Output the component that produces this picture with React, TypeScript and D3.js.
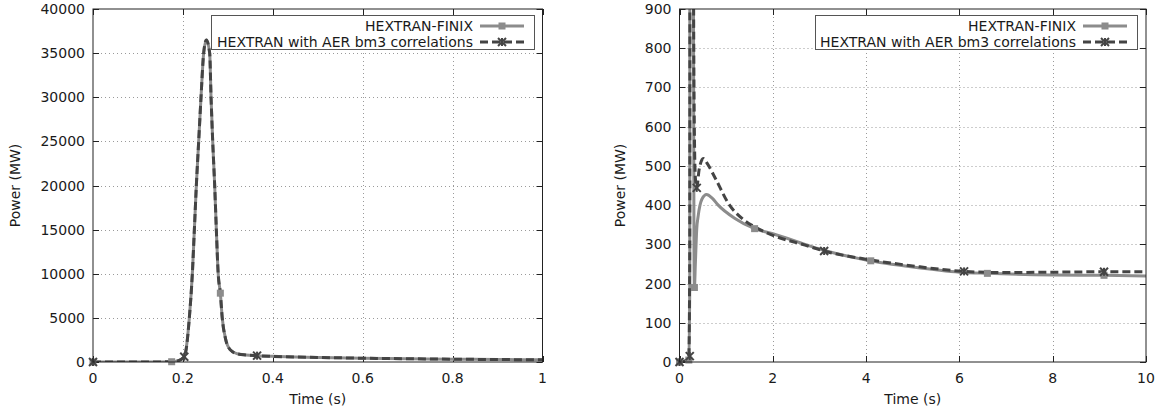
import React from "react";
import * as d3 from "d3";

// ---- Left panel: full transient, 0–1 s ----
const finixLeftT = [0, 0.05, 0.1, 0.15, 0.175, 0.19, 0.2, 0.2054, 0.2143, 0.221, 0.2255, 0.2299, 0.2351, 0.2403, 0.2462, 0.2522, 0.2596, 0.2626, 0.2663, 0.2707, 0.2744, 0.2785, 0.2833, 0.2875, 0.295, 0.305, 0.32, 0.34, 0.365, 0.4, 0.5, 0.6, 0.7, 0.8, 0.9, 1.0];
const finixLeftP = [0, 0, 0, 10, 30, 150, 450, 1000, 5000, 10000, 15000, 20000, 25000, 30000, 35000, 36500, 35000, 30000, 25000, 20000, 15000, 10000, 7800, 5000, 2600, 1400, 950, 800, 720, 640, 520, 430, 370, 320, 280, 250];
const aerLeftT = [0, 0.05, 0.1, 0.15, 0.175, 0.19, 0.203, 0.2075, 0.2143, 0.221, 0.2255, 0.2299, 0.2351, 0.2403, 0.2462, 0.2522, 0.2596, 0.2626, 0.2663, 0.2707, 0.2744, 0.2785, 0.2833, 0.2875, 0.295, 0.305, 0.32, 0.34, 0.365, 0.4, 0.5, 0.6, 0.7, 0.8, 0.9, 1.0];
const aerLeftP = [0, 0, 0, 10, 30, 150, 600, 1500, 5000, 10000, 15000, 20000, 25000, 30000, 35000, 36500, 35000, 30000, 25000, 20000, 15000, 10000, 7800, 5000, 2600, 1400, 950, 800, 720, 640, 520, 430, 370, 320, 280, 250];
const finixLeftMarks: [number, number][] = [[0, 0], [0.175, 30], [0.2833, 7800]];
const aerLeftMarks: [number, number][] = [[0, 0], [0.203, 600], [0.365, 720]];

// ---- Right panel: long-term behaviour, 0–10 s ----
const finixRightT = [0, 0.1, 0.2, 0.22, 0.24, 0.25, 0.27, 0.29, 0.31, 0.32, 0.34, 0.37, 0.4, 0.48, 0.58, 0.7, 0.83, 1.19, 1.61, 2.0, 2.69, 3.0, 4.0, 5.0, 6.0, 6.6, 8.0, 9.1, 10.0];
const finixRightP = [0, 0, 5, 200, 20000, 36000, 12000, 1500, 300, 190, 250, 340, 372, 415, 427, 418, 400, 366, 340, 327, 300, 288, 260, 242, 229, 226, 222, 221, 219];
const aerRightT = [0, 0.1, 0.2, 0.22, 0.24, 0.25, 0.27, 0.29, 0.31, 0.34, 0.37, 0.42, 0.51, 0.6, 0.77, 1.05, 1.34, 1.62, 2.0, 2.69, 3.1, 4.0, 5.0, 6.1, 7.0, 8.0, 9.1, 10.0];
const aerRightP = [0, 2, 12, 300, 20000, 36500, 15000, 2000, 700, 470, 444, 490, 519, 505, 468, 404, 366, 344, 323, 298, 283, 262, 245, 231, 228, 229, 230, 230];
const finixRightMarks: [number, number][] = [[0, 0], [0.2, 5], [0.32, 190], [1.61, 340], [4.1, 258], [6.6, 226], [9.1, 221]];
const aerRightMarks: [number, number][] = [[0, 0], [0.22, 15], [0.37, 444], [3.1, 283], [6.1, 231], [9.1, 230]];

// ---- Axis ticks and labels ----
const leftXTicks = [0, 0.2, 0.4, 0.6, 0.8, 1];
const leftYTicks = [0, 5000, 10000, 15000, 20000, 25000, 30000, 35000, 40000];
const rightXTicks = [0, 2, 4, 6, 8, 10];
const rightYTicks = [0, 100, 200, 300, 400, 500, 600, 700, 800, 900];
const seriesNames = ["HEXTRAN-FINIX", "HEXTRAN with AER bm3 correlations"];
const xLabel = "Time (s)";
const yLabel = "Power (MW)";

const FONT = "'DejaVu Sans', Verdana, sans-serif";
const FINIX_COLOR = "#8c8c8c";
const AER_COLOR = "#444444";
const TEXT = "#1a1a1a";

type Series = { t: number[]; p: number[]; marks: [number, number][] };

function Square({ x, y }: { x: number; y: number }) {
  return <rect x={x - 3.5} y={y - 3.5} width={7} height={7} fill={FINIX_COLOR} />;
}

function Star({ x, y }: { x: number; y: number }) {
  const r = 4;
  return (
    <g stroke={AER_COLOR} strokeWidth={2}>
      <line x1={x - r} y1={y - r} x2={x + r} y2={y + r} />
      <line x1={x - r} y1={y + r} x2={x + r} y2={y - r} />
      <line x1={x} y1={y - r} x2={x} y2={y + r} />
    </g>
  );
}

function Panel(props: {
  id: string;
  left: number;
  right: number;
  top: number;
  bottom: number;
  xDomain: [number, number];
  yDomain: [number, number];
  xTicks: number[];
  yTicks: number[];
  finix: Series;
  aer: Series;
  legendLeft: number;
  legendRight: number;
  yLabelX: number;
}) {
  const { left, right, top, bottom, finix, aer } = props;
  const x = d3.scaleLinear().domain(props.xDomain).range([left, right]);
  const y = d3.scaleLinear().domain(props.yDomain).range([bottom, top]);
  const line = d3
    .line<[number, number]>()
    .x((d) => x(d[0]))
    .y((d) => y(d[1]))
    .curve(d3.curveMonotoneX);
  const finixPts = finix.t.map((t, i) => [t, finix.p[i]] as [number, number]);
  const aerPts = aer.t.map((t, i) => [t, aer.p[i]] as [number, number]);
  const clipId = `clip-${props.id}`;
  const tickLen = 6;
  const fmt = (v: number) => String(v);

  const lgTop = 15;
  const lgBottom = 49;
  const sampleEnd = props.legendRight - 10;
  const sampleStart = sampleEnd - 44;
  const textEnd = sampleStart - 7;
  const rows = [26, 42];

  return (
    <g>
      <defs>
        <clipPath id={clipId}>
          <rect x={left} y={top} width={right - left} height={bottom - top} />
        </clipPath>
      </defs>

      {/* grid */}
      <g stroke="#9a9a9a" strokeWidth={1} strokeDasharray="1,3">
        {props.xTicks.slice(1, -1).map((t) => (
          <line key={`gx${t}`} x1={Math.round(x(t)) + 0.5} x2={Math.round(x(t)) + 0.5} y1={top} y2={bottom} />
        ))}
        {props.yTicks.slice(1, -1).map((v) => (
          <line key={`gy${v}`} x1={left} x2={right} y1={Math.round(y(v)) + 0.5} y2={Math.round(y(v)) + 0.5} />
        ))}
      </g>

      {/* tick marks on all four sides */}
      <g stroke="#222" strokeWidth={1}>
        {props.xTicks.map((t) => {
          const px = Math.round(x(t)) + 0.5;
          return (
            <g key={`tx${t}`}>
              <line x1={px} x2={px} y1={bottom} y2={bottom - tickLen} />
              <line x1={px} x2={px} y1={top} y2={top + tickLen} />
            </g>
          );
        })}
        {props.yTicks.map((v) => {
          const py = Math.round(y(v)) + 0.5;
          return (
            <g key={`ty${v}`}>
              <line x1={left} x2={left + tickLen} y1={py} y2={py} />
              <line x1={right} x2={right - tickLen} y1={py} y2={py} />
            </g>
          );
        })}
      </g>

      {/* curves */}
      <g clipPath={`url(#${clipId})`} fill="none">
        <path d={line(finixPts) ?? ""} stroke={FINIX_COLOR} strokeWidth={3} />
        <path d={line(aerPts) ?? ""} stroke={AER_COLOR} strokeWidth={3} strokeDasharray="8,4" />
      </g>
      <g>
        {finix.marks.map((m, i) => (
          <Square key={`fm${i}`} x={x(m[0])} y={y(m[1])} />
        ))}
        {aer.marks.map((m, i) => (
          <Star key={`am${i}`} x={x(m[0])} y={y(m[1])} />
        ))}
      </g>

      {/* border */}
      <rect x={left} y={top} width={right - left} height={bottom - top} fill="none" stroke="#222" strokeWidth={1} />

      {/* tick labels */}
      <g fontFamily={FONT} fontSize={14} fill={TEXT}>
        {props.xTicks.map((t) => (
          <text key={`lx${t}`} x={x(t)} y={bottom + 21} textAnchor="middle">
            {fmt(t)}
          </text>
        ))}
        {props.yTicks.map((v) => (
          <text key={`ly${v}`} x={left - 8} y={y(v) + 5} textAnchor="end">
            {fmt(v)}
          </text>
        ))}
        <text x={(left + right) / 2} y={bottom + 42} textAnchor="middle">
          {xLabel}
        </text>
        <text
          transform={`translate(${props.yLabelX},${(top + bottom) / 2}) rotate(-90)`}
          textAnchor="middle"
        >
          {yLabel}
        </text>
      </g>

      {/* legend */}
      <rect
        x={props.legendLeft + 0.5}
        y={lgTop + 0.5}
        width={props.legendRight - props.legendLeft}
        height={lgBottom - lgTop}
        fill="#fff"
        stroke="#555"
        strokeWidth={1}
      />
      <g fontFamily={FONT} fontSize={14} fill={TEXT}>
        <text x={textEnd} y={rows[0] + 5} textAnchor="end">
          {seriesNames[0]}
        </text>
        <text x={textEnd} y={rows[1] + 5} textAnchor="end">
          {seriesNames[1]}
        </text>
      </g>
      <line x1={sampleStart} x2={sampleEnd} y1={rows[0]} y2={rows[0]} stroke={FINIX_COLOR} strokeWidth={3} />
      <Square x={(sampleStart + sampleEnd) / 2} y={rows[0]} />
      <line x1={sampleStart} x2={sampleEnd} y1={rows[1]} y2={rows[1]} stroke={AER_COLOR} strokeWidth={3} strokeDasharray="8,4" />
      <Star x={(sampleStart + sampleEnd) / 2} y={rows[1]} />
    </g>
  );
}

export default function App() {
  return (
    <svg width={1157} height={412} style={{ position: "absolute", left: 0, top: 0, background: "#fff" }}>
      <rect width={1157} height={412} fill="#fff" />
      <Panel
        id="left"
        left={93}
        right={542.5}
        top={9}
        bottom={362}
        xDomain={[0, 1]}
        yDomain={[0, 40000]}
        xTicks={leftXTicks}
        yTicks={leftYTicks}
        finix={{ t: finixLeftT, p: finixLeftP, marks: finixLeftMarks }}
        aer={{ t: aerLeftT, p: aerLeftP, marks: aerLeftMarks }}
        legendLeft={211}
        legendRight={534}
        yLabelX={20}
      />
      <Panel
        id="right"
        left={679.5}
        right={1146}
        top={9}
        bottom={362}
        xDomain={[0, 10]}
        yDomain={[0, 900]}
        xTicks={rightXTicks}
        yTicks={rightYTicks}
        finix={{ t: finixRightT, p: finixRightP, marks: finixRightMarks }}
        aer={{ t: aerRightT, p: aerRightP, marks: aerRightMarks }}
        legendLeft={815}
        legendRight={1137}
        yLabelX={625}
      />
    </svg>
  );
}
